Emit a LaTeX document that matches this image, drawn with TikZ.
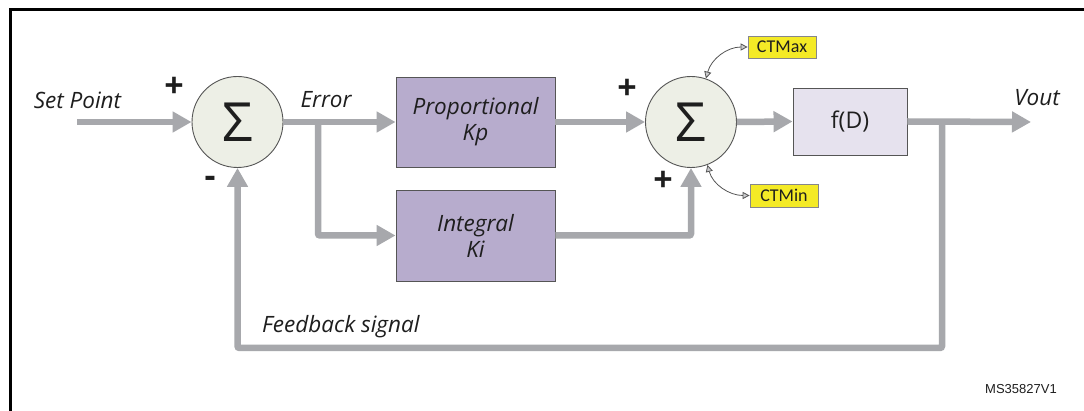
\documentclass[tikz,border=0pt]{standalone}
\usepackage{fontspec}
\setmainfont{Open Sans}
\newfontfamily\carl{Carlito}
\newfontfamily\arialf{Liberation Sans}
\usetikzlibrary{arrows.meta}
\definecolor{flow}{HTML}{A7A8AC}
\definecolor{edge}{HTML}{555555}
\definecolor{sumfill}{HTML}{EDEFE6}
\definecolor{pidfill}{HTML}{B7ACCD}
\definecolor{fdfill}{HTML}{E6E2EE}
\definecolor{ctfill}{HTML}{F4EA26}
\definecolor{txt}{HTML}{1E1E1E}
\begin{document}
\begin{tikzpicture}[x=1pt,y=-1pt,
  flowline/.style={draw=flow,line width=6.5pt,rounded corners=2pt},
  flowarrow/.style={flowline,-{Triangle[length=19pt,width=20pt]}},
  sumnode/.style={circle,draw=edge,line width=0.9pt,fill=sumfill,minimum size=91pt,inner sep=0pt,
    text=txt,font=\fontsize{54}{54}\selectfont},
  pidbox/.style={rectangle,draw=edge,line width=0.9pt,fill=pidfill,minimum width=159pt,inner sep=0pt,
    align=center,text=txt,font=\fontsize{22.5}{26}\selectfont\itshape},
  fdbox/.style={rectangle,draw=edge,line width=0.9pt,fill=fdfill,minimum width=114pt,minimum height=67pt,
    inner sep=0pt,text=txt,font=\fontsize{23}{26}\selectfont},
  ctbox/.style={rectangle,draw=flow!80!black,line width=0.7pt,fill=ctfill,minimum width=68pt,minimum height=22pt,
    inner sep=0pt,text=txt,font=\carl\fontsize{18}{18}\selectfont},
  label/.style={text=txt,inner sep=0pt,font=\fontsize{22.5}{26}\selectfont\itshape},
  sign/.style={text=txt,inner sep=0pt,font=\fontsize{34}{34}\selectfont\bfseries},
  thin/.style={draw=edge,line width=0.8pt,{Triangle[open,length=7pt,width=7pt,fill=flow!60]}-{Triangle[open,length=7pt,width=7pt,fill=flow!60]}}
]
\useasboundingbox (0,0) rectangle (1084,411);
\fill[white] (0,0) rectangle (1084,411);
% frame (extends beyond the visible area)
\draw[line width=3pt] (10.5,430) -- (10.5,10) -- (1100,10);

% nodes
\node[sumnode] (s1) at (237.5,122) {Σ};
\node[sumnode] (s2) at (691,122) {Σ};
\node[pidbox,minimum height=90pt] (prop) at (475.5,122) {Proportional\\Kp};
\node[pidbox,minimum height=91pt] (int) at (475.5,235.5) {Integral\\Ki};
\node[fdbox] (fd) at (850,121.5) {f(D)};
\node[ctbox] (ctmax) at (782,47) {CTMax};
\node[ctbox,minimum height=23pt] (ctmin) at (784,195.5) {CTMin};

% coordinates
\coordinate (sp) at (77,122);
\coordinate (eb) at (318,122);
\coordinate (vout) at (1031,122);
\coordinate (ob) at (942,122);
\coordinate (fb1) at (942,348);
\coordinate (fb2) at (237.5,348);

% flow connectors
\draw[flowarrow] (sp) -- (s1.west);
\draw[flowarrow] (s1.east) -- (prop.west);
\draw[flowarrow] (eb) |- (int.west);
\draw[flowarrow] (prop.east) -- (s2.west);
\draw[flowarrow] (int.east) -| (s2.south);
\draw[flowarrow] (s2.east) -- (fd.west);
\draw[flowarrow] (fd.east) -- (vout);
\draw[flowarrow] (ob) -- (fb1) -- (fb2) -- (s1.south);

% limit connectors
\draw[thin] (s2.71) to[out=75,in=180] (ctmax.west);
\draw[thin] (s2.-69) to[out=-75,in=180] (ctmin.west);

% labels
\node[label] (lsp) at (77.5,100) {Set Point};
\node[label] (lerr) at (326,100) {Error};
\node[label] (lvout) at (1037,98) {Vout};
\node[label,anchor=base west] (lfb) at (262,333) {Feedback signal};
\node[sign] (p1) at (174,87) {+};
\node[sign] (m1) at (210,182) {-};
\node[sign] (p2) at (627,89) {+};
\node[sign] (p3) at (663,181) {+};
\node[text=txt,inner sep=0pt,font=\arialf\fontsize{13}{14}\selectfont] (ms) at (1021,389) {MS35827V1};
\end{tikzpicture}
\end{document}
